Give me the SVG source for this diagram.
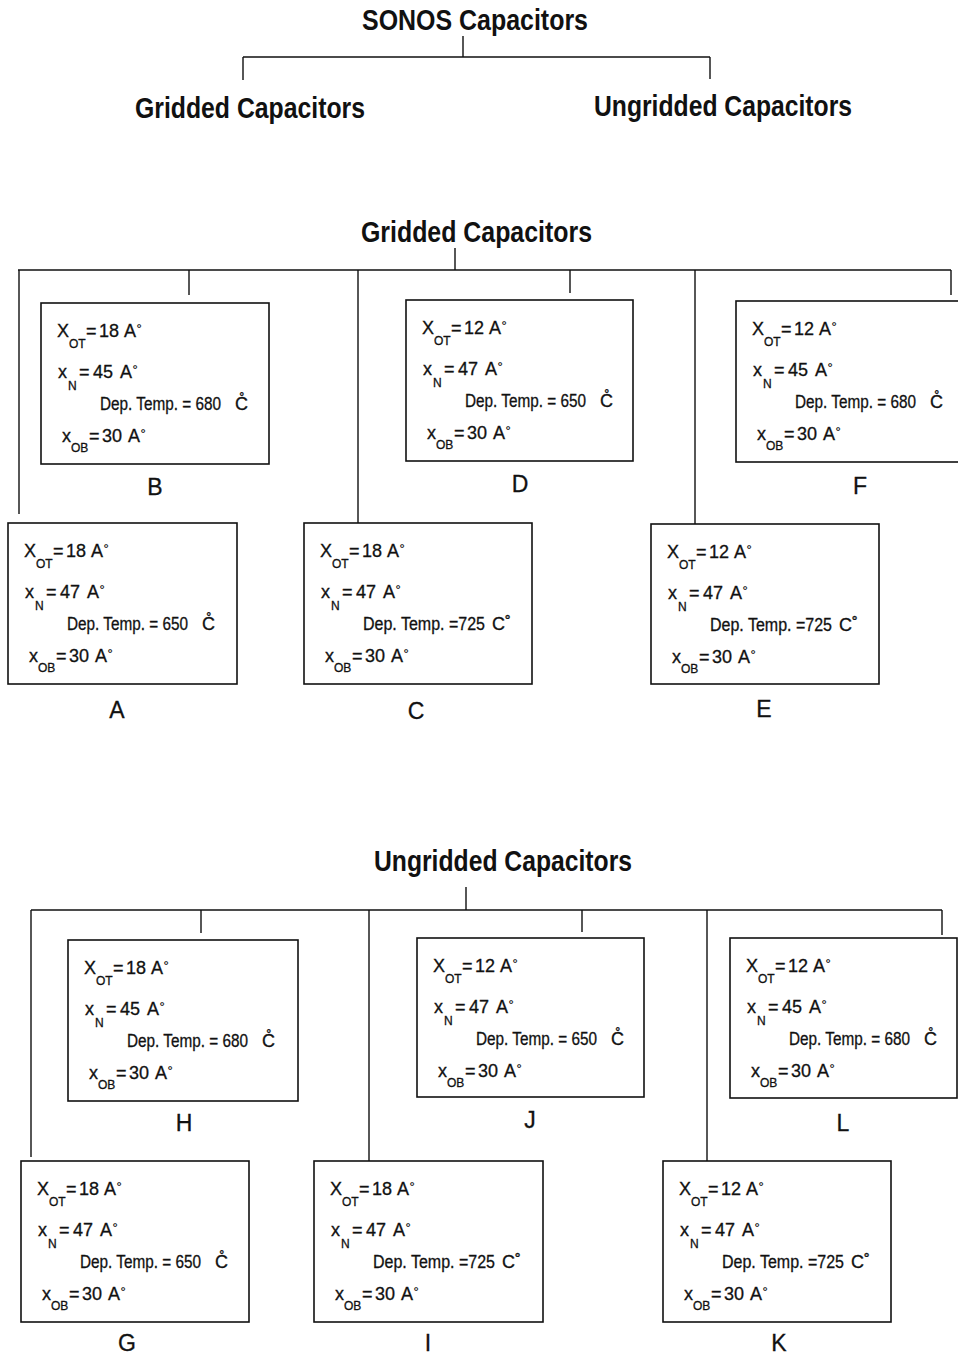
<svg xmlns="http://www.w3.org/2000/svg" width="958" height="1358" viewBox="0 0 958 1358">
<style>
.bg{fill:#fff}
.box{fill:none;stroke:#111;stroke-width:1.6}
.ln{fill:none;stroke:#111;stroke-width:1.4}
text{font-family:"Liberation Sans",Arial,sans-serif;fill:#111}
.t{font-size:18px;stroke:#111;stroke-width:0.3}
.s{font-size:12px}
.dg{font-size:13px;stroke-width:0.2}
.lab{font-size:23px;text-anchor:middle;stroke:#111;stroke-width:0.3}
.ttl{font-size:29px;font-weight:bold}
</style>
<rect class="bg" x="0" y="0" width="958" height="1358"/>

<g id="connectors">
<path class="ln" d="M463,36 V57 M243,57 H710 M243,57 V80 M710,57 V79"/>
<path class="ln" d="M455,248 V270 M18,270 H951 M19,270 V514 M189,270 V295 M358,270 V523 M570,270 V293 M695,270 V524 M951,270 V295"/>
<path class="ln" d="M466,887 V910 M31,910 H942 M31,910 V1157 M201,910 V933 M369,910 V1161 M582,910 V932 M707,910 V1161 M942,910 V935"/>
</g>

<g id="title-sonos"><text class="ttl" x="362" y="30" textLength="226" lengthAdjust="spacingAndGlyphs">SONOS Capacitors</text></g>
<g id="title-gridded-top"><text class="ttl" x="135" y="118" textLength="230" lengthAdjust="spacingAndGlyphs">Gridded Capacitors</text></g>
<g id="title-ungridded-top"><text class="ttl" x="594" y="116" textLength="258" lengthAdjust="spacingAndGlyphs">Ungridded Capacitors</text></g>
<g id="title-gridded"><text class="ttl" x="361" y="242" textLength="231" lengthAdjust="spacingAndGlyphs">Gridded Capacitors</text></g>
<g id="title-ungridded"><text class="ttl" x="374" y="871" textLength="258" lengthAdjust="spacingAndGlyphs">Ungridded Capacitors</text></g>

<!-- A -->
<g id="node-A" transform="translate(8,523)">
<rect class="box" width="229" height="161"/>
<text class="t" y="34"><tspan x="16">X</tspan><tspan class="s" x="28" y="45">OT</tspan><tspan x="45" y="34">=</tspan><tspan x="58">18</tspan><tspan x="83">A</tspan><tspan class="dg" x="95.6" y="30">°</tspan></text>
<text class="t" y="75"><tspan x="17">x</tspan><tspan class="s" x="27" y="87">N</tspan><tspan x="38" y="75">=</tspan><tspan x="52">47</tspan><tspan x="79">A</tspan><tspan class="dg" x="91.6" y="71">°</tspan></text>
<text class="t" x="59" y="107"><tspan textLength="121" lengthAdjust="spacingAndGlyphs">Dep. Temp. = 650</tspan><tspan x="194">C&#x30A;</tspan></text>
<text class="t" y="139"><tspan x="21">x</tspan><tspan class="s" x="30" y="149">OB</tspan><tspan x="48" y="139">=</tspan><tspan x="61">30</tspan><tspan x="87">A</tspan><tspan class="dg" x="99.6" y="135">°</tspan></text>
<text class="lab" x="109" y="195">A</text>
</g>

<!-- B -->
<g id="node-B" transform="translate(41,303)">
<rect class="box" width="228" height="161"/>
<text class="t" y="34"><tspan x="16">X</tspan><tspan class="s" x="28" y="45">OT</tspan><tspan x="45" y="34">=</tspan><tspan x="58">18</tspan><tspan x="83">A</tspan><tspan class="dg" x="95.6" y="30">°</tspan></text>
<text class="t" y="75"><tspan x="17">x</tspan><tspan class="s" x="27" y="87">N</tspan><tspan x="38" y="75">=</tspan><tspan x="52">45</tspan><tspan x="79">A</tspan><tspan class="dg" x="91.6" y="71">°</tspan></text>
<text class="t" x="59" y="107"><tspan textLength="121" lengthAdjust="spacingAndGlyphs">Dep. Temp. = 680</tspan><tspan x="194">C&#x30A;</tspan></text>
<text class="t" y="139"><tspan x="21">x</tspan><tspan class="s" x="30" y="149">OB</tspan><tspan x="48" y="139">=</tspan><tspan x="61">30</tspan><tspan x="87">A</tspan><tspan class="dg" x="99.6" y="135">°</tspan></text>
<text class="lab" x="114" y="192">B</text>
</g>

<!-- C -->
<g id="node-C" transform="translate(304,523)">
<rect class="box" width="228" height="161"/>
<text class="t" y="34"><tspan x="16">X</tspan><tspan class="s" x="28" y="45">OT</tspan><tspan x="45" y="34">=</tspan><tspan x="58">18</tspan><tspan x="83">A</tspan><tspan class="dg" x="95.6" y="30">°</tspan></text>
<text class="t" y="75"><tspan x="17">x</tspan><tspan class="s" x="27" y="87">N</tspan><tspan x="38" y="75">=</tspan><tspan x="52">47</tspan><tspan x="79">A</tspan><tspan class="dg" x="91.6" y="71">°</tspan></text>
<text class="t" x="59" y="107"><tspan textLength="122" lengthAdjust="spacingAndGlyphs">Dep. Temp. =725</tspan><tspan x="188">C&#x2DA;</tspan></text>
<text class="t" y="139"><tspan x="21">x</tspan><tspan class="s" x="30" y="149">OB</tspan><tspan x="48" y="139">=</tspan><tspan x="61">30</tspan><tspan x="87">A</tspan><tspan class="dg" x="99.6" y="135">°</tspan></text>
<text class="lab" x="112" y="196">C</text>
</g>

<!-- D -->
<g id="node-D" transform="translate(406,300)">
<rect class="box" width="227" height="161"/>
<text class="t" y="34"><tspan x="16">X</tspan><tspan class="s" x="28" y="45">OT</tspan><tspan x="45" y="34">=</tspan><tspan x="58">12</tspan><tspan x="83">A</tspan><tspan class="dg" x="95.6" y="30">°</tspan></text>
<text class="t" y="75"><tspan x="17">x</tspan><tspan class="s" x="27" y="87">N</tspan><tspan x="38" y="75">=</tspan><tspan x="52">47</tspan><tspan x="79">A</tspan><tspan class="dg" x="91.6" y="71">°</tspan></text>
<text class="t" x="59" y="107"><tspan textLength="121" lengthAdjust="spacingAndGlyphs">Dep. Temp. = 650</tspan><tspan x="194">C&#x30A;</tspan></text>
<text class="t" y="139"><tspan x="21">x</tspan><tspan class="s" x="30" y="149">OB</tspan><tspan x="48" y="139">=</tspan><tspan x="61">30</tspan><tspan x="87">A</tspan><tspan class="dg" x="99.6" y="135">°</tspan></text>
<text class="lab" x="114" y="192">D</text>
</g>

<!-- E -->
<g id="node-E" transform="translate(651,524)">
<rect class="box" width="228" height="160"/>
<text class="t" y="34"><tspan x="16">X</tspan><tspan class="s" x="28" y="45">OT</tspan><tspan x="45" y="34">=</tspan><tspan x="58">12</tspan><tspan x="83">A</tspan><tspan class="dg" x="95.6" y="30">°</tspan></text>
<text class="t" y="75"><tspan x="17">x</tspan><tspan class="s" x="27" y="87">N</tspan><tspan x="38" y="75">=</tspan><tspan x="52">47</tspan><tspan x="79">A</tspan><tspan class="dg" x="91.6" y="71">°</tspan></text>
<text class="t" x="59" y="107"><tspan textLength="122" lengthAdjust="spacingAndGlyphs">Dep. Temp. =725</tspan><tspan x="188">C&#x2DA;</tspan></text>
<text class="t" y="139"><tspan x="21">x</tspan><tspan class="s" x="30" y="149">OB</tspan><tspan x="48" y="139">=</tspan><tspan x="61">30</tspan><tspan x="87">A</tspan><tspan class="dg" x="99.6" y="135">°</tspan></text>
<text class="lab" x="113" y="193">E</text>
</g>

<!-- F -->
<g id="node-F" transform="translate(736,301)">
<rect class="box" width="230" height="161"/>
<text class="t" y="34"><tspan x="16">X</tspan><tspan class="s" x="28" y="45">OT</tspan><tspan x="45" y="34">=</tspan><tspan x="58">12</tspan><tspan x="83">A</tspan><tspan class="dg" x="95.6" y="30">°</tspan></text>
<text class="t" y="75"><tspan x="17">x</tspan><tspan class="s" x="27" y="87">N</tspan><tspan x="38" y="75">=</tspan><tspan x="52">45</tspan><tspan x="79">A</tspan><tspan class="dg" x="91.6" y="71">°</tspan></text>
<text class="t" x="59" y="107"><tspan textLength="121" lengthAdjust="spacingAndGlyphs">Dep. Temp. = 680</tspan><tspan x="194">C&#x30A;</tspan></text>
<text class="t" y="139"><tspan x="21">x</tspan><tspan class="s" x="30" y="149">OB</tspan><tspan x="48" y="139">=</tspan><tspan x="61">30</tspan><tspan x="87">A</tspan><tspan class="dg" x="99.6" y="135">°</tspan></text>
<text class="lab" x="124" y="193">F</text>
</g>

<!-- G -->
<g id="node-G" transform="translate(21,1161)">
<rect class="box" width="228" height="161"/>
<text class="t" y="34"><tspan x="16">X</tspan><tspan class="s" x="28" y="45">OT</tspan><tspan x="45" y="34">=</tspan><tspan x="58">18</tspan><tspan x="83">A</tspan><tspan class="dg" x="95.6" y="30">°</tspan></text>
<text class="t" y="75"><tspan x="17">x</tspan><tspan class="s" x="27" y="87">N</tspan><tspan x="38" y="75">=</tspan><tspan x="52">47</tspan><tspan x="79">A</tspan><tspan class="dg" x="91.6" y="71">°</tspan></text>
<text class="t" x="59" y="107"><tspan textLength="121" lengthAdjust="spacingAndGlyphs">Dep. Temp. = 650</tspan><tspan x="194">C&#x30A;</tspan></text>
<text class="t" y="139"><tspan x="21">x</tspan><tspan class="s" x="30" y="149">OB</tspan><tspan x="48" y="139">=</tspan><tspan x="61">30</tspan><tspan x="87">A</tspan><tspan class="dg" x="99.6" y="135">°</tspan></text>
<text class="lab" x="106" y="190">G</text>
</g>

<!-- H -->
<g id="node-H" transform="translate(68,940)">
<rect class="box" width="230" height="161"/>
<text class="t" y="34"><tspan x="16">X</tspan><tspan class="s" x="28" y="45">OT</tspan><tspan x="45" y="34">=</tspan><tspan x="58">18</tspan><tspan x="83">A</tspan><tspan class="dg" x="95.6" y="30">°</tspan></text>
<text class="t" y="75"><tspan x="17">x</tspan><tspan class="s" x="27" y="87">N</tspan><tspan x="38" y="75">=</tspan><tspan x="52">45</tspan><tspan x="79">A</tspan><tspan class="dg" x="91.6" y="71">°</tspan></text>
<text class="t" x="59" y="107"><tspan textLength="121" lengthAdjust="spacingAndGlyphs">Dep. Temp. = 680</tspan><tspan x="194">C&#x30A;</tspan></text>
<text class="t" y="139"><tspan x="21">x</tspan><tspan class="s" x="30" y="149">OB</tspan><tspan x="48" y="139">=</tspan><tspan x="61">30</tspan><tspan x="87">A</tspan><tspan class="dg" x="99.6" y="135">°</tspan></text>
<text class="lab" x="116" y="191">H</text>
</g>

<!-- I -->
<g id="node-I" transform="translate(314,1161)">
<rect class="box" width="229" height="161"/>
<text class="t" y="34"><tspan x="16">X</tspan><tspan class="s" x="28" y="45">OT</tspan><tspan x="45" y="34">=</tspan><tspan x="58">18</tspan><tspan x="83">A</tspan><tspan class="dg" x="95.6" y="30">°</tspan></text>
<text class="t" y="75"><tspan x="17">x</tspan><tspan class="s" x="27" y="87">N</tspan><tspan x="38" y="75">=</tspan><tspan x="52">47</tspan><tspan x="79">A</tspan><tspan class="dg" x="91.6" y="71">°</tspan></text>
<text class="t" x="59" y="107"><tspan textLength="122" lengthAdjust="spacingAndGlyphs">Dep. Temp. =725</tspan><tspan x="188">C&#x2DA;</tspan></text>
<text class="t" y="139"><tspan x="21">x</tspan><tspan class="s" x="30" y="149">OB</tspan><tspan x="48" y="139">=</tspan><tspan x="61">30</tspan><tspan x="87">A</tspan><tspan class="dg" x="99.6" y="135">°</tspan></text>
<text class="lab" x="114" y="190">I</text>
</g>

<!-- J -->
<g id="node-J" transform="translate(417,938)">
<rect class="box" width="227" height="159"/>
<text class="t" y="34"><tspan x="16">X</tspan><tspan class="s" x="28" y="45">OT</tspan><tspan x="45" y="34">=</tspan><tspan x="58">12</tspan><tspan x="83">A</tspan><tspan class="dg" x="95.6" y="30">°</tspan></text>
<text class="t" y="75"><tspan x="17">x</tspan><tspan class="s" x="27" y="87">N</tspan><tspan x="38" y="75">=</tspan><tspan x="52">47</tspan><tspan x="79">A</tspan><tspan class="dg" x="91.6" y="71">°</tspan></text>
<text class="t" x="59" y="107"><tspan textLength="121" lengthAdjust="spacingAndGlyphs">Dep. Temp. = 650</tspan><tspan x="194">C&#x30A;</tspan></text>
<text class="t" y="139"><tspan x="21">x</tspan><tspan class="s" x="30" y="149">OB</tspan><tspan x="48" y="139">=</tspan><tspan x="61">30</tspan><tspan x="87">A</tspan><tspan class="dg" x="99.6" y="135">°</tspan></text>
<text class="lab" x="113" y="190">J</text>
</g>

<!-- K -->
<g id="node-K" transform="translate(663,1161)">
<rect class="box" width="228" height="161"/>
<text class="t" y="34"><tspan x="16">X</tspan><tspan class="s" x="28" y="45">OT</tspan><tspan x="45" y="34">=</tspan><tspan x="58">12</tspan><tspan x="83">A</tspan><tspan class="dg" x="95.6" y="30">°</tspan></text>
<text class="t" y="75"><tspan x="17">x</tspan><tspan class="s" x="27" y="87">N</tspan><tspan x="38" y="75">=</tspan><tspan x="52">47</tspan><tspan x="79">A</tspan><tspan class="dg" x="91.6" y="71">°</tspan></text>
<text class="t" x="59" y="107"><tspan textLength="122" lengthAdjust="spacingAndGlyphs">Dep. Temp. =725</tspan><tspan x="188">C&#x2DA;</tspan></text>
<text class="t" y="139"><tspan x="21">x</tspan><tspan class="s" x="30" y="149">OB</tspan><tspan x="48" y="139">=</tspan><tspan x="61">30</tspan><tspan x="87">A</tspan><tspan class="dg" x="99.6" y="135">°</tspan></text>
<text class="lab" x="116" y="190">K</text>
</g>

<!-- L -->
<g id="node-L" transform="translate(730,938)">
<rect class="box" width="227" height="160"/>
<text class="t" y="34"><tspan x="16">X</tspan><tspan class="s" x="28" y="45">OT</tspan><tspan x="45" y="34">=</tspan><tspan x="58">12</tspan><tspan x="83">A</tspan><tspan class="dg" x="95.6" y="30">°</tspan></text>
<text class="t" y="75"><tspan x="17">x</tspan><tspan class="s" x="27" y="87">N</tspan><tspan x="38" y="75">=</tspan><tspan x="52">45</tspan><tspan x="79">A</tspan><tspan class="dg" x="91.6" y="71">°</tspan></text>
<text class="t" x="59" y="107"><tspan textLength="121" lengthAdjust="spacingAndGlyphs">Dep. Temp. = 680</tspan><tspan x="194">C&#x30A;</tspan></text>
<text class="t" y="139"><tspan x="21">x</tspan><tspan class="s" x="30" y="149">OB</tspan><tspan x="48" y="139">=</tspan><tspan x="61">30</tspan><tspan x="87">A</tspan><tspan class="dg" x="99.6" y="135">°</tspan></text>
<text class="lab" x="113" y="193">L</text>
</g>
</svg>
